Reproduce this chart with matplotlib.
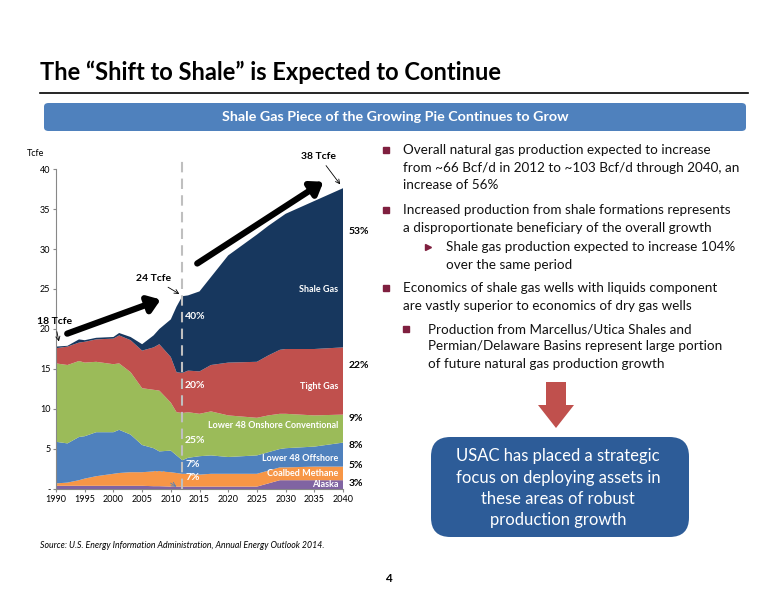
import matplotlib
matplotlib.use("Agg")
import matplotlib.pyplot as plt
from matplotlib.patches import FancyBboxPatch, FancyArrow
import numpy as np

years = [1990,1992,1994,1995,1997,2000,2001,2003,2005,2007,2008,2010,2011,2012,2013,2015,2017,2020,2025,2027,2029,2030,2035,2040]
alaska   = [.4,.4,.4,.4,.4,.4,.4,.4,.4,.35,.35,.3,.3,.3,.3,.3,.3,.3,.3,.7,1.1,1.1,1.1,1.1]
coalbed  = [.3,.4,.7,.9,1.2,1.5,1.6,1.7,1.7,1.85,1.85,1.8,1.7,1.6,1.6,1.5,1.6,1.6,1.6,1.6,1.6,1.6,1.7,1.7]
offshore = [5.2,4.9,5.4,5.3,5.5,5.2,5.4,4.7,3.4,2.9,2.5,2.7,2.2,1.7,2.0,2.3,2.3,2.1,2.3,2.3,2.3,2.4,2.5,3.0]
onshore  = [9.8,9.8,9.5,9.2,8.8,8.5,8.3,7.8,7.1,7.3,7.6,6.0,5.4,5.9,5.7,5.3,5.5,5.2,4.7,4.6,4.4,4.3,3.9,3.5]
tight    = [1.9,2.3,2.3,2.6,2.8,3.2,3.5,4.0,4.7,5.3,5.8,5.7,5.0,5.0,5.2,5.3,5.8,6.6,7.0,7.5,8.0,8.1,8.3,8.4]
shale    = [.2,.1,.4,.2,.2,.2,.3,.4,.8,1.5,1.9,4.7,8.2,9.6,9.4,10.0,11.0,13.4,15.9,16.2,16.5,16.9,18.5,19.9]
colors = ["#8064A2","#F79646","#4F81BD","#9BBB59","#C0504D","#17375E"]
xticks = [1990,1995,2000,2005,2010,2015,2020,2025,2030,2035,2040]
share_labels = ["53%","22%","9%","8%","5%","3%"]

FONT = "Lato"
W, H = 776, 600
fig = plt.figure(figsize=(7.76, 6.0), dpi=100)

def fx(x): return x / W
def fy(y): return 1 - y / H

# Title and rule
fig.text(fx(40), fy(72), "The \u201cShift to Shale\u201d is Expected to Continue", fontsize=17,
         fontweight="bold", family=FONT, va="center", ha="left")
fig.add_artist(plt.Line2D([fx(40), fx(748)], [fy(93), fy(93)], color="black", lw=1.2))
banner = FancyBboxPatch((fx(44), fy(131)), fx(702), fy(103) - fy(131), boxstyle="round,pad=0,rounding_size=0.006",
                        transform=fig.transFigure, fc="#4F81BD", ec="none")
fig.add_artist(banner)
fig.text(fx(395), fy(117), "Shale Gas Piece of the Growing Pie Continues to Grow", color="white",
         fontsize=10.3, fontweight="bold", family=FONT, ha="center", va="center")

# Chart
ax = fig.add_axes([fx(56), fy(489), fx(343) - fx(56), fy(169) - fy(489)])
ax.stackplot(years, alaska, coalbed, offshore, onshore, tight, shale, colors=colors, lw=0)
ax.set_xlim(1990, 2040)
ax.set_ylim(0, 40)
ax.set_xticks(xticks)
ax.set_xticklabels([str(t) for t in xticks], fontsize=6.5, family=FONT)
ax.set_yticks(range(0, 41, 5))
ax.set_yticklabels(["-"] + [str(v) for v in range(5, 41, 5)], fontsize=6.5, family=FONT)
for s in ["top", "right"]:
    ax.spines[s].set_visible(False)
ax.spines["left"].set_color("#888888")
ax.spines["bottom"].set_color("#888888")
ax.tick_params(length=2, color="#888888", pad=2)
ax.text(-0.1, 1.04, "Tcfe", transform=ax.transAxes, fontsize=6.5, family=FONT)
ax.plot([2012, 2012], [0, 41.5], ls=(0, (5, 3)), color="#BFBFBF", lw=1.5, clip_on=False)

# Big arrows
ax.annotate("", xy=(2008.7, 23.8), xytext=(1991.5, 19.3),
            arrowprops=dict(arrowstyle="-|>,head_width=0.5,head_length=0.7", lw=4.5, color="black"), annotation_clip=False)
ax.annotate("", xy=(2037.0, 38.6), xytext=(2014.2, 28.0),
            arrowprops=dict(arrowstyle="-|>,head_width=0.5,head_length=0.7", lw=4.5, color="black"), annotation_clip=False)
# Small callouts
ax.annotate("18 Tcfe", xy=(1990.6, 18.1), xytext=(1989.8, 20.6), ha="center", fontsize=7.5, fontweight="bold", family=FONT,
            arrowprops=dict(arrowstyle="->", lw=0.6), annotation_clip=False)
ax.annotate("24 Tcfe", xy=(2011.9, 24.2), xytext=(2007.0, 26.0), ha="center", fontsize=7.5, fontweight="bold", family=FONT,
            arrowprops=dict(arrowstyle="->", lw=0.6), annotation_clip=False)
ax.annotate("38 Tcfe", xy=(2039.8, 37.8), xytext=(2035.8, 41.3), ha="center", fontsize=7.5, fontweight="bold", family=FONT,
            arrowprops=dict(arrowstyle="->", lw=0.6), annotation_clip=False)

lab = dict(color="white", fontsize=6.5, fontweight="bold", family=FONT, ha="right", va="center")
ax.text(2039.2, 25.0, "Shale Gas", **lab)
ax.text(2039.2, 12.8, "Tight Gas", **lab)
ax.text(2039.2, 7.9, "Lower 48 Onshore Conventional", **lab)
ax.text(2039.2, 3.8, "Lower 48 Offshore", **lab)
ax.text(2039.2, 1.9, "Coalbed Methane", **lab)
ax.text(2039.2, 0.6, "Alaska", **lab)
pc = dict(color="white", fontsize=7.5, fontweight="bold", family=FONT, ha="left", va="center")
ax.text(2012.4, 21.6, "40%", **pc)
ax.text(2012.4, 12.9, "20%", **pc)
ax.text(2012.4, 6.1, "25%", **pc)
ax.text(2012.6, 3.1, "7%", **pc)
ax.text(2012.6, 1.4, "7%", **pc)
ax.annotate("1%", xy=(2011.4, 0.1), xytext=(2007.8, 1.7), color="#F79646", fontsize=7.5, fontweight="bold",
            family=FONT, ha="center", va="center", arrowprops=dict(arrowstyle="->", lw=0.6, color="#4F81BD"))
for lbl, yv in zip(share_labels, [32.2, 15.5, 8.8, 5.5, 2.9, 0.7]):
    ax.text(2041.0, yv, lbl, fontsize=7.5, fontweight="bold", family=FONT, ha="left", va="center", clip_on=False)

# Right side bullets
bul = "#7F1F3F"
tf = dict(fontsize=9.7, family=FONT, ha="left", va="center", color="#111111")
def bullet(x, y, marker="s"):
    fig.add_artist(plt.Line2D([fx(x)], [fy(y)], marker=marker, ms=4.5, color=bul, transform=fig.transFigure))
lines = [
    (386, 403, 150, "s", ["Overall natural gas production expected to increase",
                          "from ~66 Bcf/d in 2012 to ~103 Bcf/d through 2040, an",
                          "increase of 56%"]),
    (386, 403, 210, "s", ["Increased production from shale formations represents",
                          "a disproportionate beneficiary of the overall growth"]),
    (428, 446, 247, ">", ["Shale gas production expected to increase 104%",
                          "over the same period"]),
    (386, 403, 288, "s", ["Economics of shale gas wells with liquids component",
                          "are vastly superior to economics of dry gas wells"]),
    (406, 428, 329, "s", ["Production from Marcellus/Utica Shales and",
                          "Permian/Delaware Basins represent large portion",
                          "of future natural gas production growth"]),
]
for bx, tx, y0, m, ls in lines:
    bullet(bx, y0, m)
    for i, l in enumerate(ls):
        fig.text(fx(tx), fy(y0 + i * 17.5), l, **tf)

fig.add_artist(FancyArrow(fx(556), fy(382), 0, fy(428) - fy(382), width=fx(20), head_width=fx(36),
                          head_length=fy(405) - fy(428), length_includes_head=True,
                          transform=fig.transFigure, fc="#C0504D", ec="none"))
box = FancyBboxPatch((fx(431), fy(537)), fx(258), fy(437) - fy(537), boxstyle="round,pad=0,rounding_size=0.025",
                     transform=fig.transFigure, fc="#2D5C98", ec="none", mutation_aspect=W / H)
fig.add_artist(box)
for i, l in enumerate(["USAC has placed a strategic", "focus on deploying assets in",
                       "these areas of robust", "production growth"]):
    fig.text(fx(558), fy(456 + i * 21.5), l, color="white", fontsize=12, family=FONT, ha="center", va="center")

fig.text(fx(40), fy(545), "Source: U.S. Energy Information Administration, Annual Energy Outlook 2014.",
         fontsize=6.3, style="italic", family=FONT, va="center")
fig.text(fx(388), fy(578), "4", fontsize=8.5, fontweight="bold", family=FONT, ha="center", va="center")

fig.savefig("out.png", dpi=100)
